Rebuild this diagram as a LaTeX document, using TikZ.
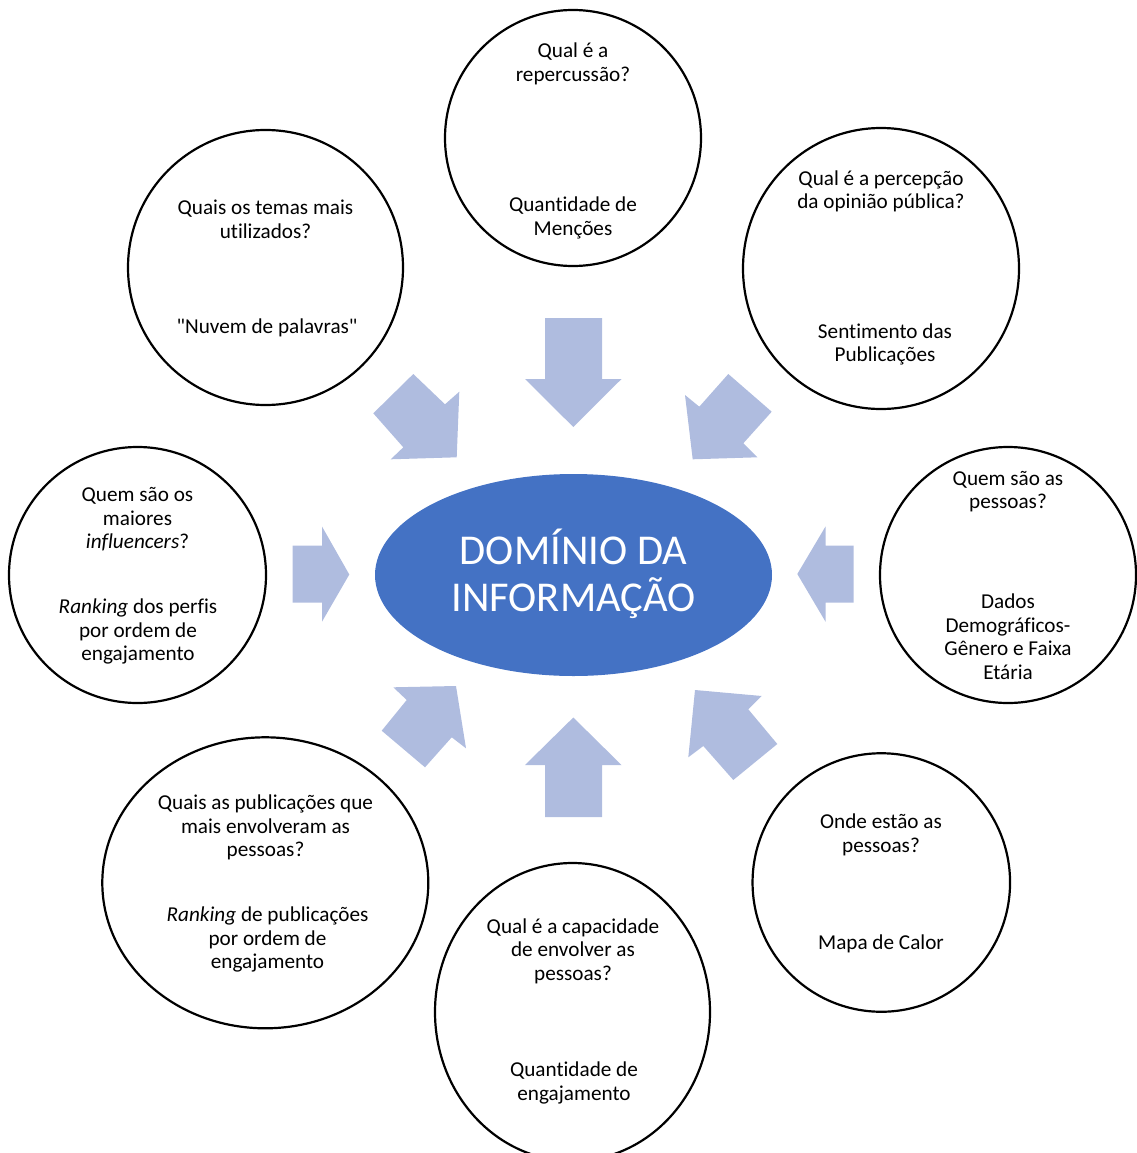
\documentclass[tikz,border=0pt]{standalone}
\usepackage{fontspec}
\setmainfont{Carlito}[Ligatures={TeXOff,CommonOff}]
\usetikzlibrary{shapes.geometric}
\definecolor{domblue}{HTML}{4472C4}
\definecolor{arrowblue}{HTML}{AFBCDF}
\begin{document}
\begin{tikzpicture}[x=1pt,y=-1pt,
  bubble/.style={draw=black, line width=2.2pt, ellipse, inner sep=0pt, fill=white},
  txt/.style={align=center, inner sep=0pt, yshift=-2pt, font=\fontsize{21.2}{23.5}\selectfont},
  blockarrow/.style={fill=arrowblue, draw=none}]
\useasboundingbox (0,0) rectangle (1136,1153);

% block arrows
\fill[blockarrow] (413.3,374) -- (445,404.3) -- (459.3,391.7) -- (456.7,457.3) -- (390.7,459.3) -- (403.3,447.3) -- (373.3,413.3) -- cycle;
\fill[blockarrow] (545,318) -- (602,318) -- (602,379) -- (621.5,379) -- (573.3,427) -- (525,379) -- (545,379) -- cycle;
\fill[blockarrow] (728.3,374) -- (771.7,411.7) -- (743.3,443.3) -- (757.3,457.3) -- (692.7,459.3) -- (685,395) -- (699.3,406.7) -- cycle;
\fill[blockarrow] (292.5,545.5) -- (322,545.5) -- (322,526.5) -- (349.3,574.5) -- (322,621.7) -- (322,602.5) -- (292.5,602.5) -- cycle;
\fill[blockarrow] (853.5,545.5) -- (825.5,545.5) -- (825.5,526.5) -- (797.3,574) -- (825.5,621.7) -- (825.5,602.5) -- (853.5,602.5) -- cycle;
\fill[blockarrow] (393.3,687.3) -- (456,686) -- (466,748.3) -- (451.7,737.3) -- (425,767.3) -- (381.7,730.7) -- (406.7,700) -- cycle;
\fill[blockarrow] (573.3,717.5) -- (621.5,765) -- (602,765) -- (602,817) -- (545,817) -- (545,765) -- (525,765) -- cycle;
\fill[blockarrow] (695,690) -- (761.7,696) -- (748.3,709.3) -- (777.3,744) -- (733.3,780) -- (703.3,746) -- (688.3,757.3) -- cycle;

% central ellipse
\node[ellipse, fill=domblue, inner sep=0pt, minimum width=397pt, minimum height=202pt] (dom) at (573.5,575) {};
\node[align=center, inner sep=0pt, text=white, font=\fontsize{42.5}{47}\selectfont] (domtxt) at (573.5,573.5) {DOMÍNIO DA\\INFORMAÇÃO};

% circles
\node[bubble, minimum width=256pt, minimum height=256pt] (c1) at (573,138) {};
\node[bubble, minimum width=275pt, minimum height=275pt] (c2) at (265.5,267.5) {};
\node[bubble, minimum width=276pt, minimum height=281pt] (c3) at (881,268.5) {};
\node[bubble, minimum width=257pt, minimum height=256pt] (c4) at (137.5,575) {};
\node[bubble, minimum width=256pt, minimum height=256pt] (c5) at (1008,575) {};
\node[bubble, minimum width=326pt, minimum height=291pt] (c6) at (265.3,882.8) {};
\node[bubble, minimum width=275pt, minimum height=298pt] (c7) at (572.5,1012) {};
\node[bubble, minimum width=257.5pt, minimum height=258.5pt] (c8) at (881.3,882.5) {};

% texts
\node[txt] (q1) at (573,62) {Qual é a\\repercussão?};
\node[txt] (a1) at (573,216) {Quantidade de\\Menções};
\node[txt] (q2) at (265.5,217.5) {Quais os temas mais\\utilizados?};
\node[txt] (a2) at (267,326) {"Nuvem de palavras"};
\node[txt] (q3) at (881,189.5) {Qual é a percepção\\da opinião pública?};
\node[txt] (a3) at (885,342.5) {Sentimento das\\Publicações};
\node[txt] (q4) at (137.5,517.5) {Quem são os\\maiores\\\textit{influencers}?};
\node[txt] (a4) at (138,629.5) {\textit{Ranking} dos perfis\\por ordem de\\engajamento};
\node[txt] (q5) at (1008,489.5) {Quem são as\\pessoas?};
\node[txt] (a5) at (1008,634.5) {Dados\\Demográficos-\\Gênero e Faixa\\Etária};
\node[txt] (q6) at (265.5,825.5) {Quais as publicações que\\mais envolveram as\\pessoas?};
\node[txt] (a6) at (267.5,937.5) {\textit{Ranking} de publicações\\por ordem de\\engajamento};
\node[txt] (q7) at (573,949) {Qual é a capacidade\\de envolver as\\pessoas?};
\node[txt] (a7) at (574,1081) {Quantidade de\\engajamento};
\node[txt] (q8) at (881,833) {Onde estão as\\pessoas?};
\node[txt] (a8) at (881,942) {Mapa de Calor};
\end{tikzpicture}
\end{document}
